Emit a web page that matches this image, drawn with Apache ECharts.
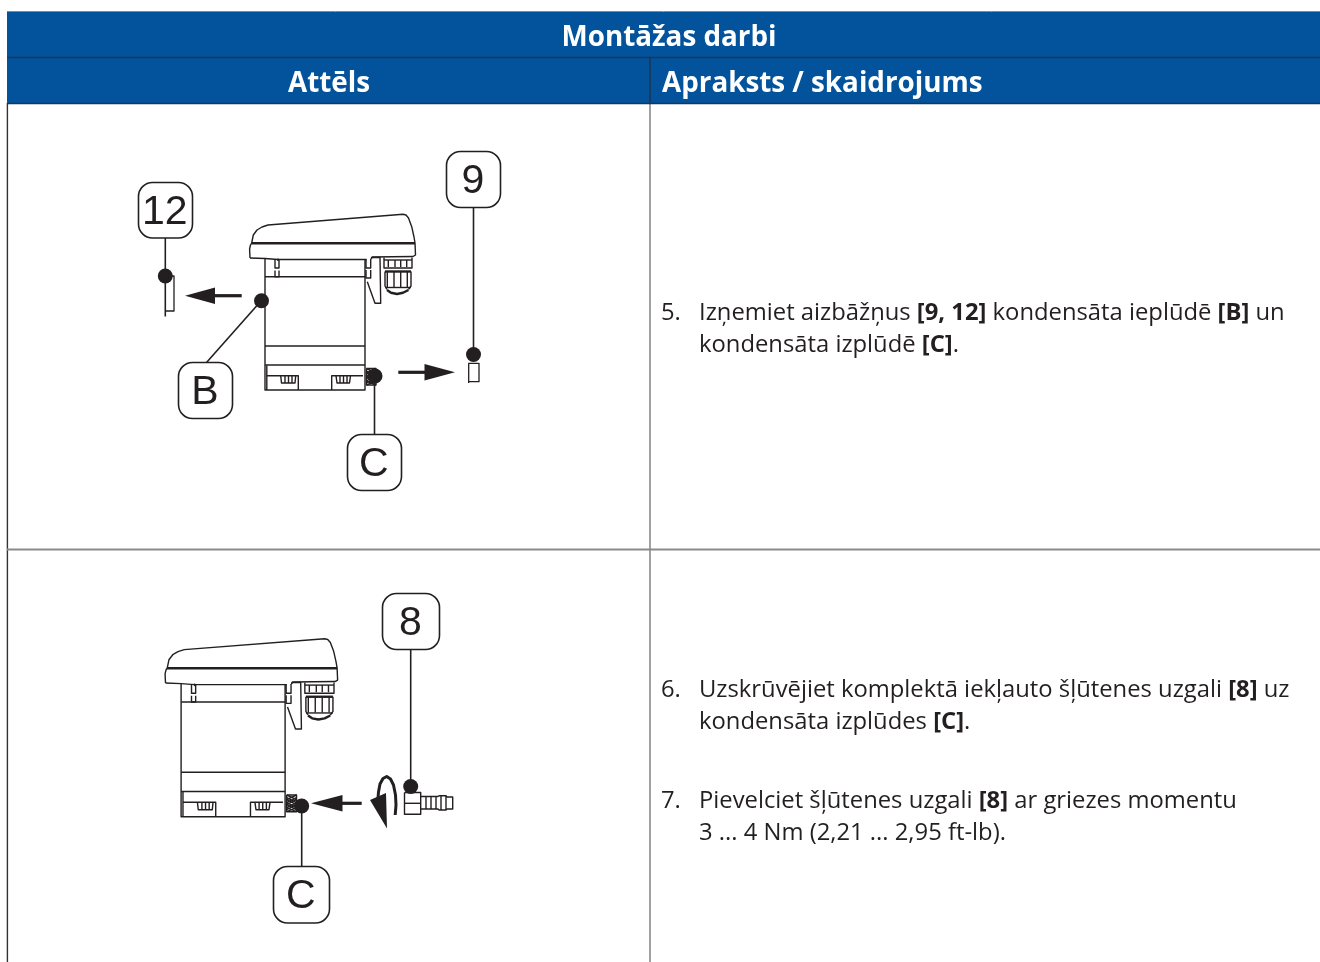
<!DOCTYPE html>
<html><head><meta charset="utf-8">
<script src="https://cdn.jsdelivr.net/npm/echarts@6/dist/echarts.min.js"></script>
<style>html,body{margin:0;padding:0;background:#fff}#c{width:1320px;height:962px}</style>
</head><body><div id="c"></div>
<script>
// ---- content ---------------------------
const headerBands = [[7,12,1320,57.5],[7,57.5,1320,103.5]];
const tableRules = [
  {c:'#333333',w:1.4,p:[[7.4,103],[7.4,962]]},
  {c:'#8a8a8a',w:1.6,p:[[650,103],[650,962]]},
  {c:'#8a8a8a',w:1.8,p:[[7,549.5],[1320,549.5]]},
  {c:'#7f8a99',w:1,p:[[7,11.5],[1320,11.5]]},
  {c:'#1d3557',w:1.4,p:[[7,57.5],[1320,57.5]]},
  {c:'#1d3557',w:1.4,p:[[7,103.5],[1320,103.5]]},
  {c:'#1d3557',w:1.6,p:[[650,57.5],[650,103.5]]}
];
const headerTexts = [
  ['Montāžas darbi',669,38,'center'],
  ['Attēls',329,84,'center'],
  ['Apraksts / skaidrojums',662,84,'left']
];
const stepNumbers = [['5.',661,313],['6.',661,690],['7.',661,801]];
const stepLines = [
  ['{n|Izņemiet aizbāžņus }{b|[9, 12]}{n| kondensāta ieplūdē }{b|[B]}{n| un}',699,313],
  ['{n|kondensāta izplūdē }{b|[C]}{n|.}',699,345],
  ['{n|Uzskrūvējiet komplektā iekļauto šļūtenes uzgali }{b|[8]}{n| uz}',699,690],
  ['{n|kondensāta izplūdes }{b|[C]}{n|.}',699,722],
  ['{n|Pievelciet šļūtenes uzgali }{b|[8]}{n| ar griezes momentu}',699,801],
  ['{n|3 ... 4 Nm (2,21 ... 2,95 ft-lb).}',699,833]
];
const calloutNames = ['12','9','B','C','8','C'];
const calloutBoxes = [[138.5,182.5,192.5,238],[446.5,151.5,500.5,207.5],[178.5,362.5,232.5,418.5],[347.5,434.5,401.5,490.5],[382.5,593.5,439.5,649.5],[273.5,866.5,329.5,923]];
const leaderDots = [[165.3,276],[473.5,354.5],[261.5,300.7],[375,376],[410.7,786.5],[301.7,806]];
const leaderLines = [
  [[165.3,238],[165.3,316.5]],[[473.5,207.5],[473.5,354]],
  [[261,301],[206.5,362.5]],[[374.5,376],[374.5,434.5]],
  [[410.7,649.5],[410.7,786]],[[301.7,806],[301.7,866.5]]
];
// one side view of the device
const deviceOutline = [
  [[250,258],[249.6,249],[250.5,245],[251.7,243],[253.3,235],[257,230],[262,227],[268,225],[403,214.3],[406,215],[408.5,218],[411.7,226.7],[414,237],[415,243],[415.5,255],[413,256.5],[372,257],[371,259]],
  [[250,258],[265,258.5],[278,259.5],[366.5,259.5]],
  [[278,258.5],[278,261]],
  [[265,258.5],[265,390],[365,390],[365,260]],
  [[265,276.7],[365,276.7]],
  [[265,346],[365,346]],
  [[265,365],[365,365]],
  [[266.8,365.5],[266.8,390]],
  [[266.8,375.7],[298.3,375.7],[298.3,390]],
  [[331.7,390],[331.7,375.7],[363,375.7]],
  [[280.7,375.7],[281.5,383],[295,383],[295.7,375.7]],
  [[285,376],[285,383]],[[288.5,376],[288.5,383]],[[292,376],[292,383]],
  [[336,375.7],[337,383],[349.5,383],[350.5,375.7]],
  [[340,376],[340,383]],[[343.5,376],[343.5,383]],[[347,376],[347,383]],
  [[275,260],[275,268],[279,268],[279,260]],[[275,270.5],[275,276.7],[279,276.7],[279,270.5]],
  [[366,259],[366,268],[370.7,268],[370.7,259]],[[366,270],[366,278],[370.7,278],[370.7,270]],
  [[371,258],[373,257.5],[380,257.5],[380.7,303.3],[375,303.3],[367.3,281.7]],
  [[384,257.5],[384,268],[412,268],[412,257.5]],
  [[384,260],[412,260]],
  [[388.3,260],[388.3,267]],[[395,260],[395,267]],[[400.7,260],[400.7,267]],[[406.7,260],[406.7,267]],
  [[385,271.5],[385,286],[387,289.5]],[[411,271.5],[411,286],[408.5,289.5]],
  [[387.3,272],[387.3,287]],[[394,272],[394,287]],[[400.7,272],[400.7,287]],[[407.3,272],[407.3,287]],
  [[385,287.5],[411,287.5]],
  [[366.5,368.5],[376,368.5],[376,385],[366.5,385],[366.5,368.5]],
  [[366.5,371],[376,376],[366.5,381],[376,385]],
  [[376,371],[366.5,376],[376,381],[366.5,385]],
  [[366.5,368.5],[376,373],[366.5,378],[376,383]],
  [[376,368.5],[366.5,373],[376,378],[366.5,383]]
];
const deviceHeavy = [
  [[251.5,243.3],[415,243.3]],
  [[385,271.5],[411,271.5]],
  [[387,290],[391,292.8],[397,294],[403,292.8],[408.5,290]]
];
const devicePlacements = [{ox:250,oy:214,x:250,y:214,sx:1,sy:1},{ox:250,oy:214,x:165.5,y:638.5,sx:1.04,sy:1.013}];
const plugOutlines = [
  [[165.3,276],[174,276],[174,311],[165.3,311]],
  [[468.7,383],[468.7,363.3],[479,363.3],[479,381.7],[468.7,381.7]]
];
const hoseNozzle = [
  [[404.5,792.5],[420.7,792.5],[420.7,814.3],[404.5,814.3],[404.5,792.5]],
  [[404.5,803.3],[420.7,803.3]],
  [[420.7,796.5],[438,796.5],[439,795.7],[446,795.7],[447,797],[452.7,797],[452.7,809],[447,809],[446,810],[439,810],[438,809],[420.7,809]],
  [[426,796.5],[426,809]],[[431,796.5],[431,809]],[[436,796.5],[436,809]],[[441,796],[441,810]],[[446,796],[446,810]]
];
const turnArc = [[395.2,815],[396,805],[395.5,795],[393.5,785],[390.5,779],[386.7,776.5],[383,778.5],[380,784],[378.5,792],[378,798]];
const arrowShafts = [[[241.7,295.7],[212,295.7]],[[398.3,372.3],[427,372.3]],[[361.7,803.3],[340,803.3]]];
const arrowHeads = [
  [[185,295.7],[215,287.5],[215,304]],
  [[455,372.3],[424.5,364],[424.5,380.5]],
  [[311,803.3],[342.5,795],[342.5,811.5]],
  [[370,800],[386,793],[387,828.5]]
];

// ---- composing marks from the lists above -----
const INK='#231f20';
const moved = (pl,pts)=>pts.map(p=>[pl.x+(p[0]-pl.ox)*pl.sx, pl.y+(p[1]-pl.oy)*pl.sy]);
const strokes=[];
tableRules.forEach(r=>strokes.push(r));
leaderLines.forEach(p=>strokes.push({c:INK,w:1.6,p}));
devicePlacements.forEach(pl=>{
  deviceOutline.forEach(p=>strokes.push({c:INK,w:1.4,p:moved(pl,p)}));
  deviceHeavy.forEach(p=>strokes.push({c:INK,w:2.4,p:moved(pl,p)}));
});
plugOutlines.forEach(p=>strokes.push({c:INK,w:1.3,p}));
hoseNozzle.forEach(p=>strokes.push({c:INK,w:1.4,p}));
strokes.push({c:INK,w:3,p:turnArc});
arrowShafts.forEach(p=>strokes.push({c:INK,w:3.2,p}));

const textPoint=(t,fmt)=>({value:[t[1],t[2]],label:fmt(t)});
const HEAD='"Open Sans"',BODY='"Open Sans"';
const solid={opacity:1};
const series=[
 {type:'custom',coordinateSystem:'cartesian2d',clip:false,silent:true,z:1,data:headerBands.map(b=>[b[0],b[1],b[2],b[3]]),
  renderItem:(ps,api)=>{const a=api.coord([api.value(0),api.value(1)]),b=api.coord([api.value(2),api.value(3)]);
    return {type:'rect',shape:{x:a[0],y:a[1],width:b[0]-a[0],height:b[1]-a[1]},style:{fill:'#02539b'}};}},
 {type:'custom',coordinateSystem:'cartesian2d',clip:false,silent:true,z:3,data:calloutBoxes,
  renderItem:(ps,api)=>{const a=api.coord([api.value(0),api.value(1)]),b=api.coord([api.value(2),api.value(3)]);
    return {type:'rect',shape:{x:a[0],y:a[1],width:b[0]-a[0],height:b[1]-a[1],r:14},style:{fill:'#fff',stroke:INK,lineWidth:1.6}};}},
 {type:'custom',coordinateSystem:'cartesian2d',clip:false,silent:true,z:2,data:strokes.map(s=>s.p[0]),
  renderItem:(ps,api)=>{const s=strokes[ps.dataIndex];
    return {type:'polyline',shape:{points:s.p.map(q=>api.coord(q))},style:{fill:null,stroke:s.c,lineWidth:s.w,lineJoin:'round'}};}},
 {type:'custom',coordinateSystem:'cartesian2d',clip:false,silent:true,z:4,data:arrowHeads.map(s=>s[0]),
  renderItem:(ps,api)=>({type:'polygon',shape:{points:arrowHeads[ps.dataIndex].map(q=>api.coord(q))},style:{fill:INK}})},
 {type:'scatter',coordinateSystem:'cartesian2d',clip:false,silent:true,z:5,symbol:'circle',symbolSize:15,itemStyle:{color:INK,opacity:1},data:leaderDots},
 {type:'scatter',clip:false,silent:true,z:6,symbolSize:0,itemStyle:solid,data:calloutNames.map((n,i)=>({
    value:[(calloutBoxes[i][0]+calloutBoxes[i][2])/2-0.7,(calloutBoxes[i][1]+calloutBoxes[i][3])/2+2],
    label:{show:true,position:'inside',formatter:n,fontFamily:'"Liberation Sans"',fontSize:41,color:INK,align:'center',verticalAlign:'middle'}}))},
 {type:'scatter',clip:false,silent:true,z:6,symbolSize:0,itemStyle:solid,data:headerTexts.map(t=>textPoint(t,t=>({show:true,position:'inside',formatter:t[0],align:t[3],verticalAlign:'middle',
    fontFamily:HEAD,fontWeight:'bold',fontSize:27.8,color:'#fff'})))},
 {type:'scatter',clip:false,silent:true,z:6,symbolSize:0,itemStyle:solid,data:stepNumbers.map(t=>textPoint(t,t=>({show:true,position:'inside',formatter:t[0],align:'left',verticalAlign:'middle',
    fontFamily:BODY,fontSize:23.8,color:INK})))},
 {type:'scatter',clip:false,silent:true,z:6,symbolSize:0,itemStyle:solid,data:stepLines.map(t=>textPoint(t,t=>({show:true,position:'inside',formatter:t[0],align:'left',verticalAlign:'middle',
    rich:{n:{fontFamily:BODY,fontSize:23.8,color:INK},b:{fontFamily:BODY,fontSize:23.8,fontWeight:'bold',color:INK}}})))}
];
const chart=echarts.init(document.getElementById('c'),null,{renderer:'canvas',width:1320,height:962});
chart.setOption({animation:false,backgroundColor:'#fff',
  grid:{left:0,right:0,top:0,bottom:0},
  xAxis:{type:'value',min:0,max:1320,show:false},
  yAxis:{type:'value',min:0,max:962,inverse:true,show:false},
  series});
</script></body></html>
